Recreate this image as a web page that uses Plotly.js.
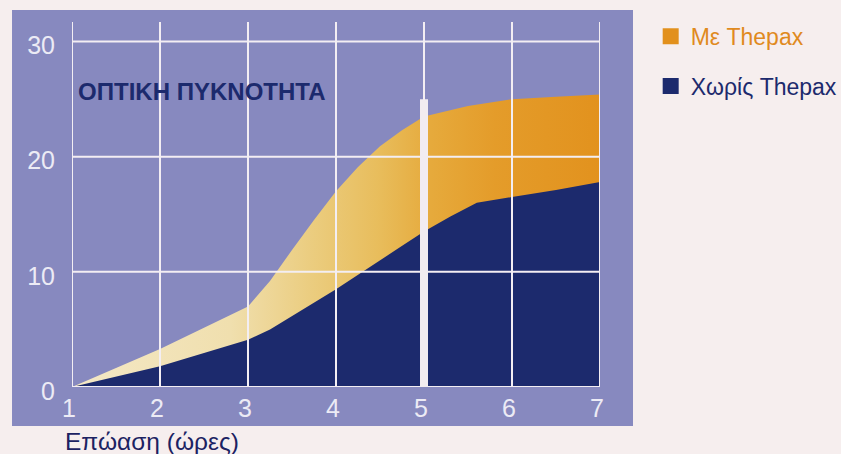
<!DOCTYPE html>
<html>
<head>
<meta charset="utf-8">
<script src="https://cdn.plot.ly/plotly-3.0.1.min.js"></script>
<style>
  html, body { margin: 0; padding: 0; background: #f6eeee; }
  #chart { width: 841px; height: 454px; }
</style>
</head>
<body>
<div id="chart"></div>
<script>
// ---- data ----
const withX    = [1, 2, 3, 3.25, 3.5, 3.75, 4, 4.25, 4.5, 4.75, 5, 5.5, 6, 6.5, 7];
const withY    = [0, 3.3, 7.0, 9.2, 11.9, 14.5, 17.0, 19.1, 20.9, 22.3, 23.5, 24.4, 25.0, 25.2, 25.4];
const withoutX = [1, 2, 3, 3.25, 4, 4.7, 5, 5.3, 5.6, 6, 6.5, 7];
const withoutY = [0, 1.8, 4.1, 5.0, 8.5, 12.0, 13.5, 14.8, 16.0, 16.5, 17.1, 17.8];
const xTicks = [1, 2, 3, 4, 5, 6, 7];
const yTicks = [0, 10, 20, 30];
const seriesNames = ['Με Thepax', 'Χωρίς Thepax'];
const chartLabel = 'ΟΠΤΙΚΗ ΠΥΚΝΟΤΗΤΑ';
const xTitle = 'Επώαση (ώρες)';
const markX = 5, markTop = 25;

// ---- styles ----
const FONT = 'Liberation Sans, Arial, Helvetica, sans-serif';
const NAVY = '#1c2a6d';
const ORANGE = '#e2901c';
const PANEL = '#8789bf';
const GRID = '#f3eef3';
const yMax = 31.7;

const traces = [
  {
    x: withX, y: withY, type: 'scatter', mode: 'none', fill: 'tozeroy',
    fillgradient: {
      type: 'horizontal', start: 1, stop: 7,
      colorscale: [[0, '#f4e8c6'], [0.3, '#f0dfae'], [0.45, '#ebcd80'], [0.58, '#e8bd5c'],
                   [0.68, '#e6aa3c'], [0.8, '#e49c2a'], [1, '#e2921e']]
    },
    showlegend: false, hoverinfo: 'skip'
  },
  {
    x: withoutX, y: withoutY, type: 'scatter', mode: 'none', fill: 'tozeroy',
    fillcolor: NAVY, showlegend: false, hoverinfo: 'skip'
  },
  {
    x: [null], y: [null], type: 'scatter', mode: 'markers', legendgroup: 'a',
    name: '<span style="color:#e08a1e">' + seriesNames[0] + '</span>',
    marker: { symbol: 'square', size: 20, color: ORANGE }
  },
  {
    x: [null], y: [null], type: 'scatter', mode: 'markers', legendgroup: 'b',
    name: '<span style="color:' + NAVY + '">' + seriesNames[1] + '</span>',
    marker: { symbol: 'square', size: 20, color: NAVY }
  }
];

const shapes = [
  { type: 'rect', xref: 'paper', yref: 'paper', x0: -0.1136, x1: 1.0625, y0: -0.107, y1: 1.033,
    fillcolor: PANEL, line: { width: 0 }, layer: 'below' }
];
xTicks.forEach(v => shapes.push({
  type: 'line', xref: 'x', yref: 'paper', x0: v, x1: v, y0: 0, y1: 1,
  line: { color: GRID, width: 2 }, layer: 'above'
}));
yTicks.forEach(v => shapes.push({
  type: 'line', xref: 'paper', yref: 'y', x0: 0, x1: 1, y0: v, y1: v,
  line: { color: GRID, width: 2 }, layer: 'above'
}));
shapes.push({
  type: 'line', xref: 'x', yref: 'y', x0: markX, x1: markX, y0: 0, y1: markTop,
  line: { color: '#f2ecf0', width: 8 }, layer: 'above'
});

const layout = {
  width: 841, height: 454,
  paper_bgcolor: '#f6eeee',
  plot_bgcolor: 'rgba(0,0,0,0)',
  margin: { l: 72, r: 241, t: 22, b: 67, autoexpand: false },
  font: { family: FONT },
  showlegend: true,
  legend: {
    x: 1.096, xanchor: 'left', y: 1.02, yanchor: 'top',
    bgcolor: 'rgba(0,0,0,0)', font: { size: 23, family: FONT, color: NAVY },
    tracegroupgap: 17
  },
  xaxis: {
    range: [1, 7], tickvals: xTicks, ticktext: xTicks.map(String),
    showgrid: false, zeroline: false, showline: false, ticks: '',
    tickfont: { size: 25, color: '#ecebf5', family: FONT },
    ticklabelstandoff: 4, ticklabelshift: -3, fixedrange: true
  },
  yaxis: {
    range: [0, yMax], tickvals: yTicks, ticktext: yTicks.map(String),
    showgrid: false, zeroline: false, showline: false, ticks: '',
    tickfont: { size: 25, color: '#ecebf5', family: FONT },
    ticklabelstandoff: 16, ticklabelshift: 4, fixedrange: true
  },
  shapes: shapes,
  annotations: [
    { text: '<b>' + chartLabel + '</b>', xref: 'paper', yref: 'paper',
      x: (202 - 72) / 528, y: (387 - 91) / 365, xanchor: 'center', yanchor: 'middle',
      showarrow: false, font: { size: 24, color: NAVY, family: FONT } },
    { text: xTitle, xref: 'paper', yref: 'paper',
      x: (63 - 72) / 528, y: (387 - 441) / 365, xanchor: 'left', yanchor: 'middle',
      showarrow: false, font: { size: 24.5, color: '#1c2262', family: FONT } }
  ]
};

Plotly.newPlot('chart', traces, layout, { displayModeBar: false, staticPlot: true });
</script>
</body>
</html>
